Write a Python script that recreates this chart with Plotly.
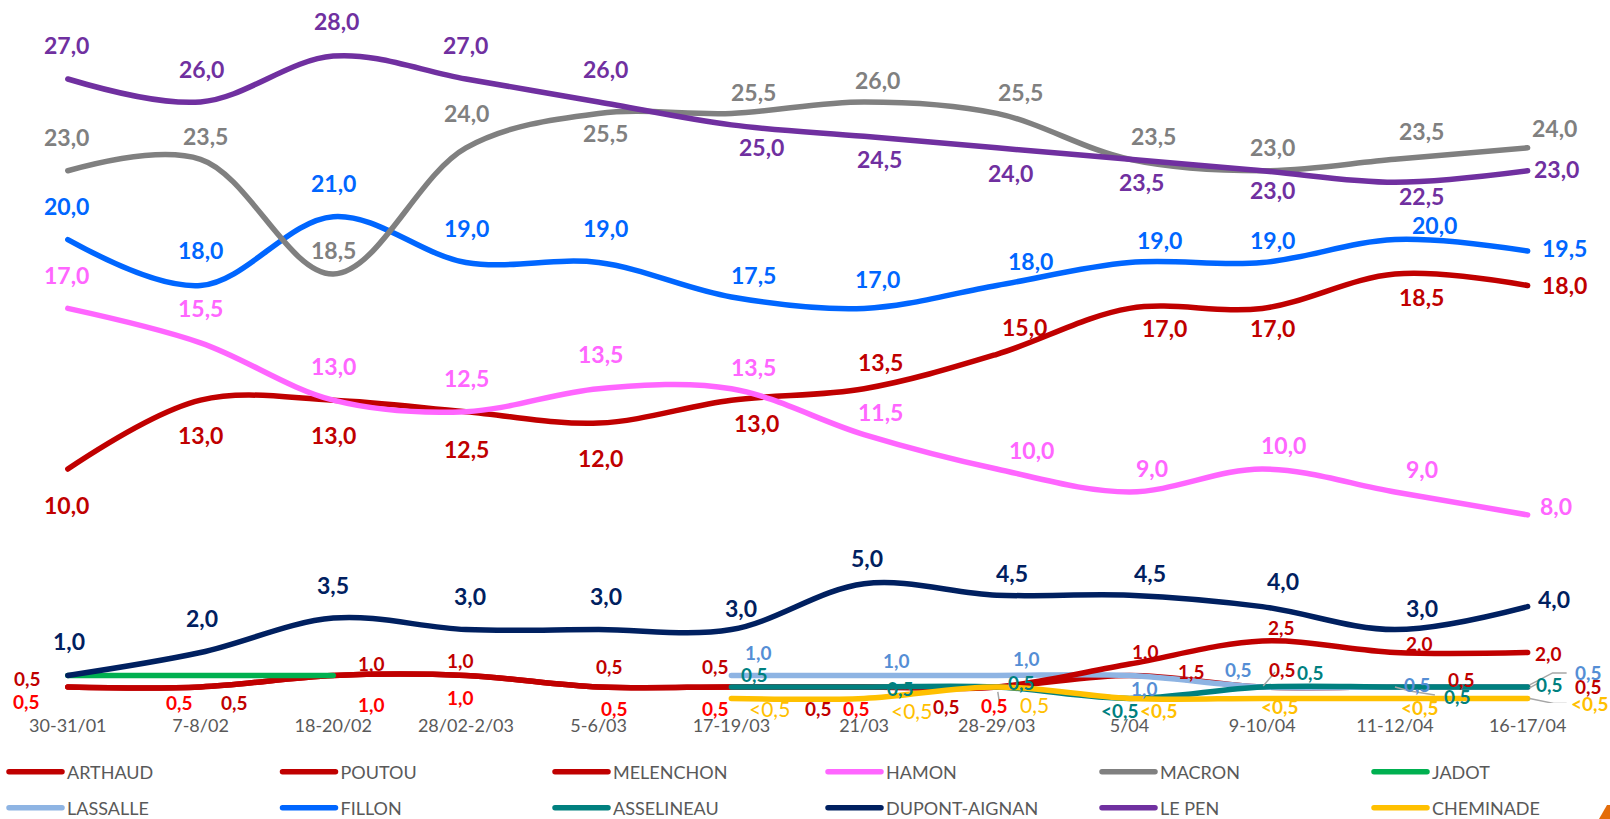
import plotly.graph_objects as go

# ---------------- data ----------------
dates = ["30-31/01", "7-8/02", "18-20/02", "28/02-2/03", "5-6/03", "17-19/03",
         "21/03", "28-29/03", "5/04", "9-10/04", "11-12/04", "16-17/04"]

arthaud    = [0.5, 0.5, 1.0, 1.0, 0.5, 0.5, 0.5, 0.5, 1.0, 0.5, 0.5, 0.5]
poutou     = [0.5, 0.5, 1.0, 1.0, 0.5, 0.5, 0.5, 0.5, 1.5, 2.5, 2.0, 2.0]
melenchon  = [10.0, 13.0, 13.0, 12.5, 12.0, 13.0, 13.5, 15.0, 17.0, 17.0, 18.5, 18.0]
hamon      = [17.0, 15.5, 13.0, 12.5, 13.5, 13.5, 11.5, 10.0, 9.0, 10.0, 9.0, 8.0]
macron     = [23.0, 23.5, 18.5, 24.0, 25.5, 25.5, 26.0, 25.5, 23.5, 23.0, 23.5, 24.0]
jadot      = [1.0, 1.0, 1.0, None, None, None, None, None, None, None, None, None]
lassalle   = [None, None, None, None, None, 1.0, 1.0, 1.0, 1.0, 0.5, 0.5, 0.5]
fillon     = [20.0, 18.0, 21.0, 19.0, 19.0, 17.5, 17.0, 18.0, 19.0, 19.0, 20.0, 19.5]
asselineau = [None, None, None, None, None, 0.5, 0.5, 0.5, 0.0, 0.5, 0.5, 0.5]
dupont     = [1.0, 2.0, 3.5, 3.0, 3.0, 3.0, 5.0, 4.5, 4.5, 4.0, 3.0, 4.0]
lepen      = [27.0, 26.0, 28.0, 27.0, 26.0, 25.0, 24.5, 24.0, 23.5, 23.0, 22.5, 23.0]
cheminade  = [None, None, None, None, None, 0.0, 0.0, 0.5, 0.0, 0.0, 0.0, 0.0]  # 0 = "<0,5"

# ---------------- styles ----------------
FONT = "Lato"
DARKRED = "#C00000"
BRIGHTRED = "#FF0000"

# label pixel offsets (dx right, dy down) from each point
off_lepen = [(-1, -34), (1, -33), (3, -35), (0, -34), (7, -33), (30, 22), (15, 23),
             (14, 25), (12, 23), (10, 19), (27, 14), (29, -2)]
off_macron = [(-1, -34), (5, -23), (0, -24), (1, -35), (7, 20), (22, -21), (13, -22),
              (24, -21), (24, -23), (10, -24), (27, -28), (27, -20)]
off_fillon = [(-1, -34), (0, -35), (0, -34), (1, -35), (7, -35), (22, -22), (13, -29),
              (34, -24), (30, -23), (10, -23), (40, -15), (37, -3)]
off_hamon = [(-1, -33), (0, -35), (0, -34), (1, -34), (2, -35), (22, -22), (16, -23),
             (35, -19), (22, -24), (21, -24), (27, -23), (28, -9)]
off_melenchon = [(-1, 36), (0, 35), (0, 35), (1, 37), (2, 35), (25, 23), (16, -27),
                 (28, -27), (35, 20), (10, 20), (27, 23), (37, 0)]
off_dupont = [(1, -34), (1, -35), (0, -33), (4, -34), (7, -34), (10, -22), (3, -26),
              (15, -22), (20, -22), (21, -26), (27, -22), (26, -8)]
off_arthaud = [(-40, -8), (34, 16), (38, -12), (-5, -15), (11, -20), (-16, -20), (-46, 22),
               (-50, 20), (16, -24), (20, -17), (67, -7), (61, 0)]
off_poutou = [(-41, 15), (-21, 16), (38, 29), (-5, 22), (16, 22), (-16, 22), (-8, 22),
              (-2, 19), (62, 8), (19, -14), (25, -9), (21, 1)]
off_lassalle = [None, None, None, None, None, (27, -23), (32, -15), (30, -17), (15, 13),
                (-24, -17), (23, -2), (61, -14)]
off_asselineau = [None, None, None, None, None, (23, -12), (36, 2), (25, -4), (-10, 12),
                  (48, -14), (63, 10), (22, -2)]
off_cheminade = [None, None, None, None, None, (38, 10), (47, 12), (38, 18), (29, 12),
                 (18, 8), (25, 9), (62, 5)]

poutou_label_colors = [BRIGHTRED] * 8 + [DARKRED] * 4
cheminade_label_sizes = [None, None, None, None, None, 21, 21, 21, 19, 19, 19, 19]
cheminade_label_bold = [None, None, None, None, None, False, False, False, True, True, True, True]

# legend grid: (column, row)
series = {
    "ARTHAUD": dict(v=arthaud, c=DARKRED, lc=DARKRED, off=off_arthaud, size=19, col=0, row=0),
    "POUTOU": dict(v=poutou, c=DARKRED, lc=poutou_label_colors, off=off_poutou, size=19, col=1, row=0),
    "MELENCHON": dict(v=melenchon, c=DARKRED, lc=DARKRED, off=off_melenchon, size=23, col=2, row=0),
    "HAMON": dict(v=hamon, c="#FF66FF", lc="#FF66FF", off=off_hamon, size=23, col=3, row=0),
    "MACRON": dict(v=macron, c="#808080", lc="#808080", off=off_macron, size=23, col=4, row=0),
    "JADOT": dict(v=jadot, c="#00B050", lc=None, off=None, size=19, col=5, row=0),
    "LASSALLE": dict(v=lassalle, c="#8EB4E3", lc="#558ED5", off=off_lassalle, size=19, col=0, row=1),
    "FILLON": dict(v=fillon, c="#0066FF", lc="#0066FF", off=off_fillon, size=23, col=1, row=1),
    "ASSELINEAU": dict(v=asselineau, c="#00807F", lc="#00807F", off=off_asselineau, size=19, col=2, row=1),
    "DUPONT-AIGNAN": dict(v=dupont, c="#002060", lc="#002060", off=off_dupont, size=23, col=3, row=1),
    "LE PEN": dict(v=lepen, c="#7030A0", lc="#7030A0", off=off_lepen, size=23, col=4, row=1),
    "CHEMINADE": dict(v=cheminade, c="#FFC000", lc="#FFC000", off=off_cheminade,
                      size=cheminade_label_sizes, bold=cheminade_label_bold, col=5, row=1),
}

draw_order = ["ARTHAUD", "LASSALLE", "POUTOU", "ASSELINEAU", "CHEMINADE", "JADOT",
              "DUPONT-AIGNAN", "MELENCHON", "HAMON", "FILLON", "MACRON", "LE PEN"]

def fmt(v):
    return "<0,5" if v == 0 else f"{v:.1f}".replace(".", ",")

def pick(x, i):
    return x[i] if isinstance(x, list) else x

def legend_key(s):
    n = s["row"] * 6 + s["col"]
    return "legend" if n == 0 else f"legend{n + 1}"

fig = go.Figure()
annotations = []
for name in draw_order:
    s = series[name]
    fig.add_trace(go.Scatter(
        x=dates, y=s["v"], name=name, mode="lines",
        line=dict(color=s["c"], width=5.5, shape="spline", smoothing=1.0),
        legend=legend_key(s), hoverinfo="skip",
    ))
    if s["off"] is None:
        continue
    for i, v in enumerate(s["v"]):
        if v is None or s["off"][i] is None:
            continue
        dx, dy = s["off"][i]
        bold = pick(s.get("bold", True), i)
        txt = fmt(v)
        annotations.append(dict(
            x=dates[i], y=v, xref="x", yref="y", text=f"<b>{txt}</b>" if bold else txt,
            showarrow=False, xshift=dx, yshift=-dy, xanchor="center", yanchor="middle",
            font=dict(family=FONT, size=pick(s["size"], i), color=pick(s["lc"], i)),
        ))

# leader lines (pixel offsets, dy down) anchored on data points
leaders = [
    ("CHEMINADE", 6, [(1, 4), (3, 14), (19, 15)]),
    ("CHEMINADE", 7, [(1, 5), (3, 18), (15, 19)]),
    ("ARTHAUD", 9, [(1, -1), (13, -15)]),
    ("LASSALLE", 10, [(0, 0), (15, 4), (40, 8)]),
    ("LASSALLE", 11, [(2, -2), (25, -14), (39, -14)]),
    ("ASSELINEAU", 11, [(2, 1), (11, -4)]),
    ("CHEMINADE", 11, [(2, 0), (26, 5), (39, 5)]),
]
shapes = []
for name, i, pts in leaders:
    path = "M" + " L".join(f"{dx},{-dy}" for dx, dy in pts)
    shapes.append(dict(type="path", xref="x", yref="y", xsizemode="pixel", ysizemode="pixel",
                       xanchor=i, yanchor=series[name]["v"][i], path=path,
                       line=dict(color="#A6A6A6", width=1.5)))

# small orange corner mark (bottom right, partly cut off)
W, H = 1610, 819
shapes.append(dict(type="path", xref="paper", yref="paper",
                   path=f"M{1599/W},0 L{1607/W},{14/H} L{1610/W},{14/H} L{1610/W},0 Z",
                   fillcolor="#E46C0A", line=dict(width=0)))

# ---------------- layout ----------------
PLOT_L, PLOT_R = 28, 1594      # plot area in pixels
PLOT_T, PLOT_B = 45, 703
legend_line_starts = [9, 282.5, 555, 828, 1102, 1374]
legend_row_centers = [772, 808]
legends = {}
for row, cy in enumerate(legend_row_centers):
    for col, px in enumerate(legend_line_starts):
        n = row * 6 + col
        key = "legend" if n == 0 else f"legend{n + 1}"
        legends[key] = dict(
            x=(px - 5) / W, y=(H - cy) / H, xanchor="left", yanchor="middle",
            orientation="v", itemwidth=53,
            font=dict(family=FONT, size=18, color="#595959"), bgcolor="rgba(0,0,0,0)",
            borderwidth=0,
        )

fig.update_layout(
    width=W, height=H,
    margin=dict(l=0, r=0, t=0, b=0, pad=0, autoexpand=False),
    paper_bgcolor="white", plot_bgcolor="white",
    showlegend=True,
    annotations=annotations,
    shapes=shapes,
    xaxis=dict(type="category", range=[-0.3, 11.5], domain=[PLOT_L / W, PLOT_R / W],
               showgrid=False, zeroline=False, showline=False, ticks="", ticklabelstandoff=10,
               tickfont=dict(family=FONT, size=18, color="#595959")),
    yaxis=dict(range=[-0.2005, 28.482], domain=[(H - PLOT_B) / H, (H - PLOT_T) / H],
               visible=False, showgrid=False, zeroline=False),
    **legends,
)

post = """
document.body.style.margin='0';
document.body.style.overflow='hidden';
document.querySelectorAll('path.js-line').forEach(function(p){p.style.strokeLinecap='round';p.style.strokeLinejoin='round';});
"""
fig.write_html("out.html", post_script=post, config={"displayModeBar": False})
